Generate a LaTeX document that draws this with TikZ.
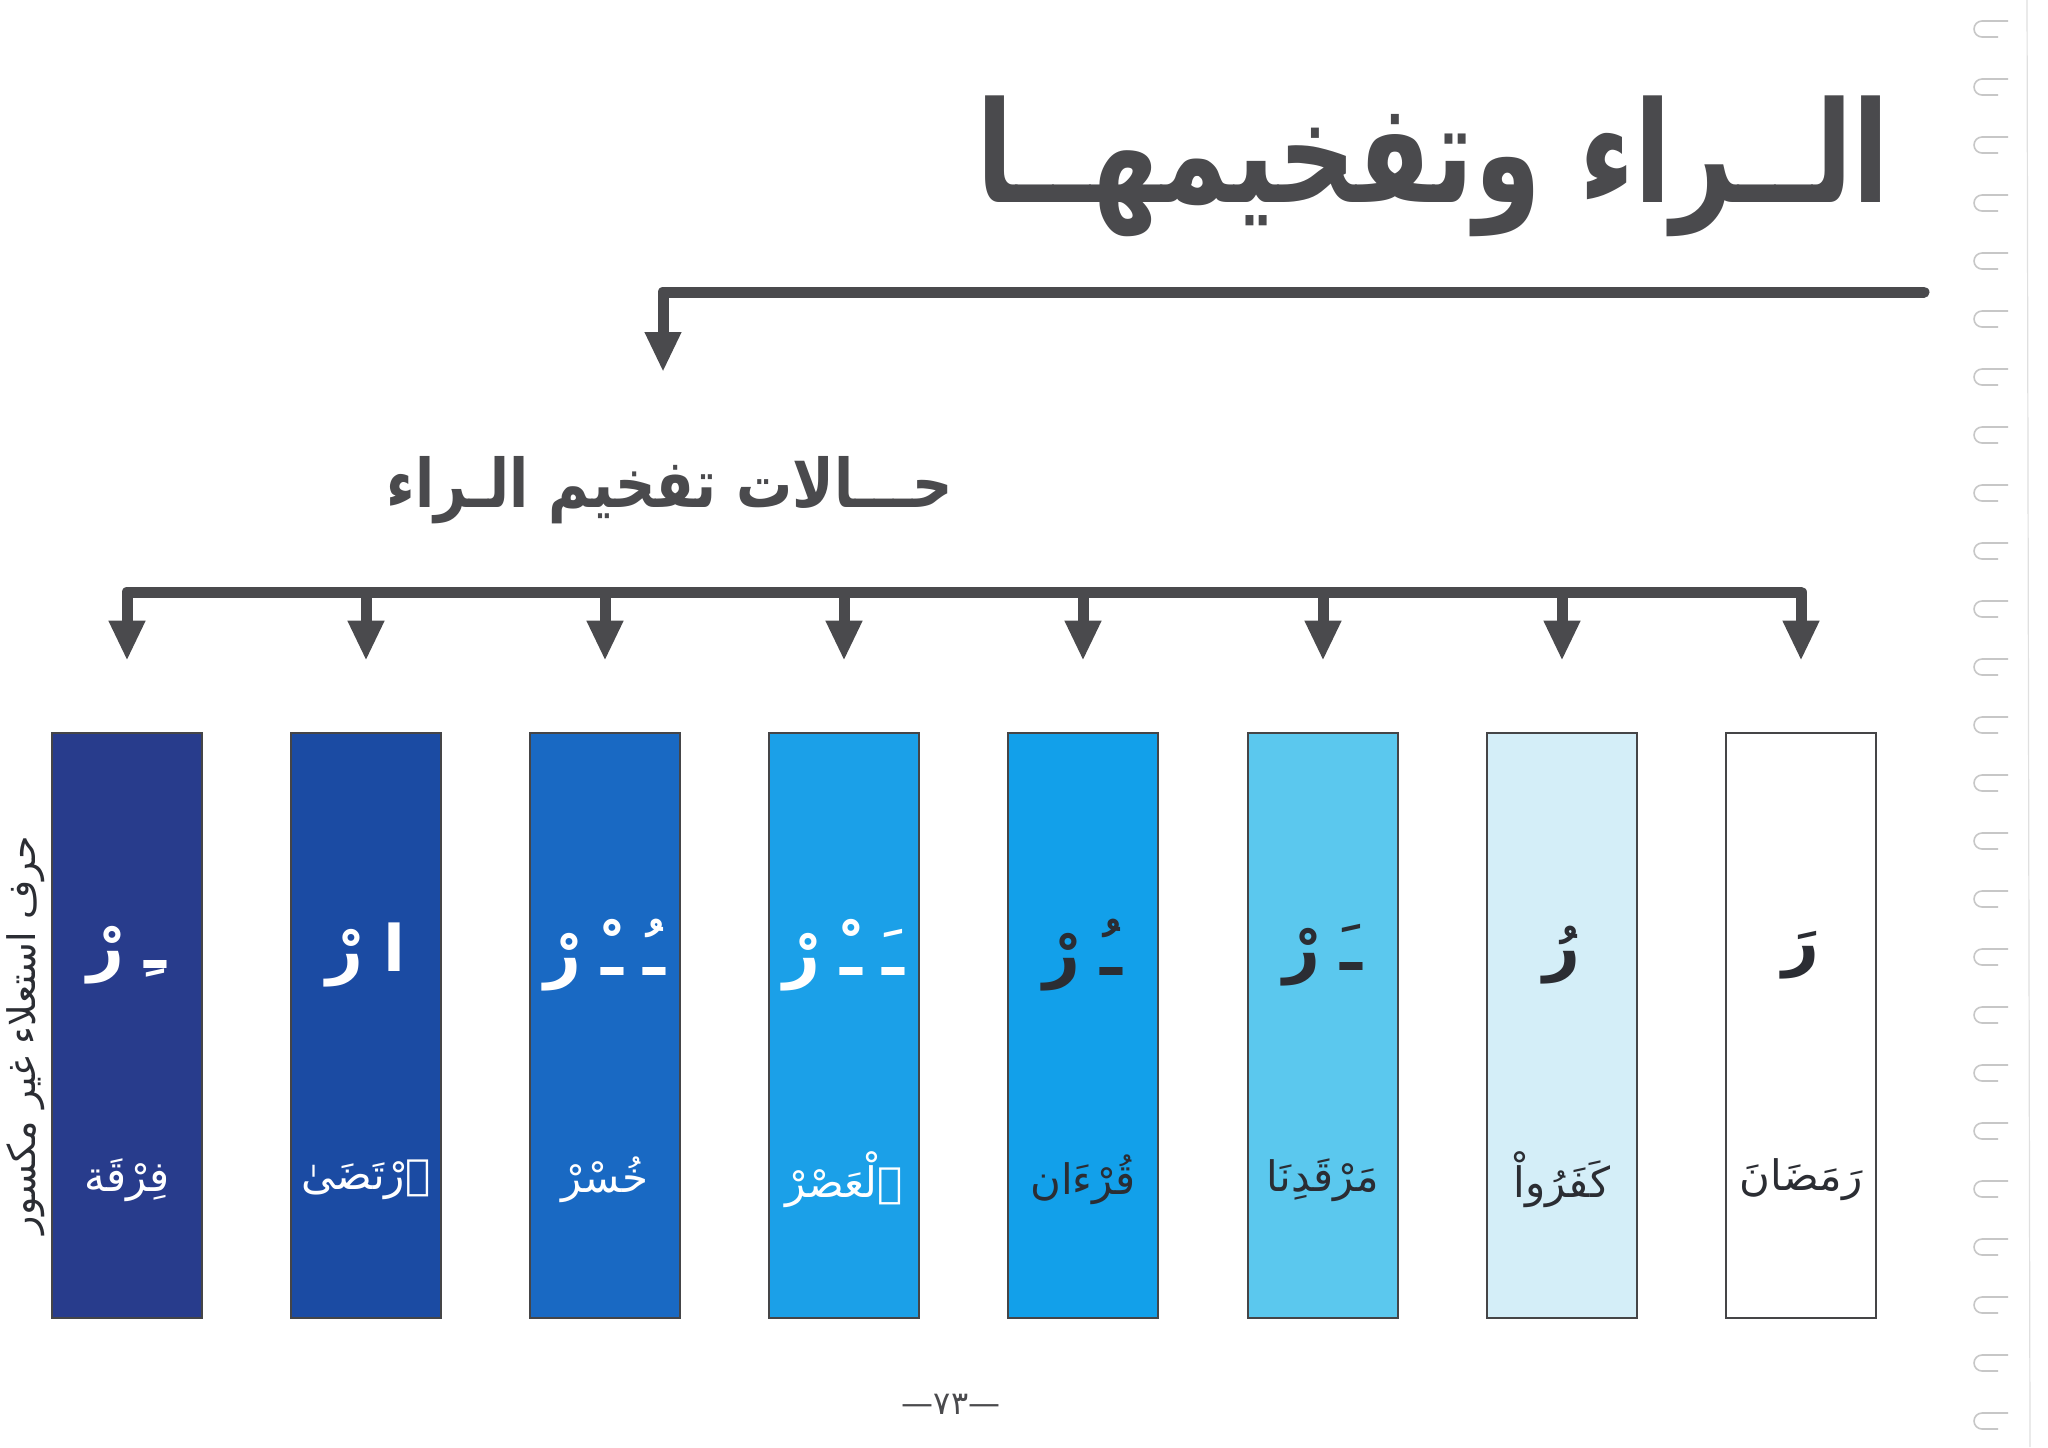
\documentclass[tikz,border=0pt]{standalone}
\usepackage{fontspec}
\usetikzlibrary{arrows.meta}
\TeXXeTstate=1
\newfontfamily\arabicfont[Script=Arabic]{DejaVu Sans}

\definecolor{inkgray}{HTML}{4A4A4D}
\definecolor{boxline}{HTML}{454547}
\definecolor{caseA}{HTML}{283C8C}
\definecolor{caseB}{HTML}{1B4BA3}
\definecolor{caseC}{HTML}{1969C3}
\definecolor{caseD}{HTML}{1BA0E8}
\definecolor{caseE}{HTML}{12A0EA}
\definecolor{caseF}{HTML}{5BC8EE}
\definecolor{caseG}{HTML}{D4EEF8}
\definecolor{darktext}{HTML}{2B2D33}

% one letter shape set on its own, then a gap
\newcommand{\lt}[1]{\hbox{#1}}
\newcommand{\gapR}{\hskip 10pt\relax}

\tikzset{
  casebox/.style={draw=boxline, line width=1.3pt, minimum width=75pt, minimum height=292.5pt, inner sep=0pt},
  markw/.style={font=\arabicfont\bfseries\fontsize{32}{38}\selectfont, text=white, inner sep=0pt},
  markd/.style={markw, text=darktext},
  wordw/.style={font=\arabicfont\fontsize{21}{25}\selectfont, text=white, inner sep=0pt},
  wordd/.style={wordw, text=darktext},
  bararrow/.style={draw=inkgray, line width=5.5pt, line join=round, -{Triangle[width=17pt,length=20pt]}},
  ringmark/.style={draw=black!22, line width=0.8pt}
}

\begin{document}
\begin{tikzpicture}[x=0.5pt,y=0.5pt,yscale=-1,xscale=1]
\path[use as bounding box, fill=white] (0,0) rectangle (2048,1447);

% Title
\node[text=inkgray, font=\arabicfont\bfseries\fontsize{54}{64}\selectfont, inner sep=0pt] (title) at (1433,166) {\scalebox{1}[1.3]{\beginR الــراء وتفخيمهــا\endR}};
% Sub title
\node[text=inkgray, font=\arabicfont\bfseries\fontsize{28}{34}\selectfont, inner sep=0pt] (subtitle) at (670,490) {\scalebox{1}[1.2]{\beginR حـــالات تفخيم الـراء\endR}};

% Boxes
\node[casebox, fill=caseA] (box1) at (127,1025.5) {};
\node[casebox, fill=caseB] (box2) at (366,1025.5) {};
\node[casebox, fill=caseC] (box3) at (605,1025.5) {};
\node[casebox, fill=caseD] (box4) at (844,1025.5) {};
\node[casebox, fill=caseE] (box5) at (1083,1025.5) {};
\node[casebox, fill=caseF] (box6) at (1323,1025.5) {};
\node[casebox, fill=caseG] (box7) at (1562,1025.5) {};
\node[casebox, fill=white] (box8) at (1801,1025.5) {};

% Letters
\node[markw] (mark1) at (127,955) {\beginR\lt{ـِ}\gapR\lt{رْ}\endR};
\node[markw] (mark2) at (366,955) {\beginR\lt{ا}\gapR\lt{رْ}\endR};
\node[markw] (mark3) at (605,955) {\beginR\lt{ـُ}\gapR\lt{ـْ}\gapR\lt{رْ}\endR};
\node[markw] (mark4) at (844,955) {\beginR\lt{ـَ}\gapR\lt{ـْ}\gapR\lt{رْ}\endR};
\node[markd] (mark5) at (1083,955) {\beginR\lt{ـُ}\gapR\lt{رْ}\endR};
\node[markd] (mark6) at (1323,955) {\beginR\lt{ـَ}\gapR\lt{رْ}\endR};
\node[markd] (mark7) at (1562,955) {\beginR رُ\endR};
\node[markd] (mark8) at (1801,955) {\beginR رَ\endR};

% Words
\node[wordw] (word1) at (127,1180) {\beginR فِرْقَة\endR};
\node[wordw] (word2) at (366,1180) {\beginR ٱرْتَضَىٰ\endR};
\node[wordw] (word3) at (605,1180) {\beginR خُسْرْ\endR};
\node[wordw] (word4) at (844,1180) {\beginR ٱلْعَصْرْ\endR};
\node[wordd] (word5) at (1083,1180) {\beginR قُرْءَان\endR};
\node[wordd] (word6) at (1323,1180) {\beginR مَرْقَدِنَا\endR};
\node[wordd] (word7) at (1562,1180) {\beginR كَفَرُواْ\endR};
\node[wordd] (word8) at (1801,1180) {\beginR رَمَضَانَ\endR};

% Side text
\node[rotate=90, text=darktext, font=\arabicfont\fontsize{19}{22}\selectfont, inner sep=0pt] (side) at (26,1035) {\beginR حرف استعلاء غير مكسور\endR};

% Page number
\node[text=inkgray, font=\arabicfont\fontsize{16}{19}\selectfont, inner sep=0pt] (pagenum) at (951,1404) {—٧٣—};

% Arrow tips
\path (box1.north) ++(0,-71) coordinate (tip1);
\path (box2.north) ++(0,-71) coordinate (tip2);
\path (box3.north) ++(0,-71) coordinate (tip3);
\path (box4.north) ++(0,-71) coordinate (tip4);
\path (box5.north) ++(0,-71) coordinate (tip5);
\path (box6.north) ++(0,-71) coordinate (tip6);
\path (box7.north) ++(0,-71) coordinate (tip7);
\path (box8.north) ++(0,-71) coordinate (tip8);
\coordinate (topend) at (1924,292);
\coordinate (toptip) at (663,372);
\coordinate (barmid) at (960,592);

% Connectors
\draw[bararrow, line cap=round] (topend) -| (toptip);
\draw[bararrow, {Triangle[width=17pt,length=20pt]}-{Triangle[width=17pt,length=20pt]}] (tip1) |- (barmid) -| (tip8);
\draw[bararrow] (barmid -| tip2) -- (tip2);
\draw[bararrow] (barmid -| tip3) -- (tip3);
\draw[bararrow] (barmid -| tip4) -- (tip4);
\draw[bararrow] (barmid -| tip5) -- (tip5);
\draw[bararrow] (barmid -| tip6) -- (tip6);
\draw[bararrow] (barmid -| tip7) -- (tip7);

% Binding
\foreach \k in {0,...,24}
  \draw[ringmark] (2008,29+58*\k-8) -- (1982,29+58*\k-8) arc[start angle=270, end angle=90, radius=8] -- (1998,29+58*\k+8);
\draw[black!12, line width=0.6pt] (2027,0) -- (2030,1447);

\end{tikzpicture}
\end{document}
